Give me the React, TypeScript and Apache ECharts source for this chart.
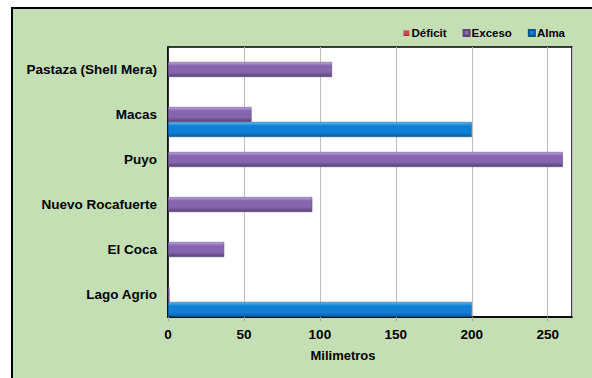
import React, { useEffect, useRef } from "react";
import * as echarts from "echarts";

const categories = ["Lago Agrio", "El Coca", "Nuevo Rocafuerte", "Puyo", "Macas", "Pastaza (Shell Mera)"];
const deficit: (number | null)[] = [null, null, null, null, null, null];
const exceso: (number | null)[] = [1, 37, 95, 260, 55, 108];
const alma: (number | null)[] = [200, null, null, null, 200, null];
const xTicks = [0, 50, 100, 150, 200, 250];

const FONT = "Liberation Sans, Arial, sans-serif";

const grad = (light: string, mid: string, dark: string) =>
  new echarts.graphic.LinearGradient(0, 0, 0, 1, [
    { offset: 0, color: light },
    { offset: 0.25, color: mid },
    { offset: 0.7, color: mid },
    { offset: 1, color: dark },
  ]);

export default function App() {
  const ref = useRef<HTMLDivElement>(null);
  useEffect(() => {
    if (!ref.current) return;
    const chart = echarts.init(ref.current, null, { renderer: "svg" });
    chart.setOption({
      animation: false,
      backgroundColor: "#ffffff",
      graphic: [
        {
          type: "rect",
          z: -10,
          silent: true,
          shape: { x: 12, y: 8, width: 620, height: 420 },
          style: { fill: "#c4dfb4", stroke: "#000000", lineWidth: 2 },
        },
        {
          type: "text",
          x: 343,
          y: 355,
          style: {
            text: "Milimetros",
            font: `bold 13px ${FONT}`,
            fill: "#000",
            textAlign: "center",
            textVerticalAlign: "middle",
          },
        },
      ],
      legend: {
        right: 22,
        top: 22,
        itemWidth: 6,
        itemHeight: 6,
        itemGap: 16,
        icon: "rect",
        textStyle: { fontFamily: FONT, fontWeight: "bold", fontSize: 11.5, color: "#000", padding: [0, 0, 0, -3] },
        data: ["Déficit", "Exceso", "Alma"],
      },
      grid: {
        left: 168,
        top: 47,
        width: 404,
        height: 270,
        show: true,
        backgroundColor: "#ffffff",
        borderColor: "#000",
        borderWidth: 1.5,
        containLabel: false,
      },
      xAxis: {
        type: "value",
        min: 0,
        max: 266,
        interval: 50,
        axisLine: { show: true, lineStyle: { color: "#000", width: 1.5 } },
        axisTick: { show: true, length: 4, lineStyle: { color: "#a6a6a6" } },
        splitLine: { show: true, lineStyle: { color: "#bfbfbf", width: 1 } },
        axisLabel: {
          showMaxLabel: false,
          margin: 10,
          fontFamily: FONT,
          fontWeight: "bold",
          fontSize: 13.5,
          color: "#000",
          formatter: (v: number) => (xTicks.includes(v) ? String(v) : ""),
        },
      },
      yAxis: {
        type: "category",
        data: categories,
        axisLine: { show: true, lineStyle: { color: "#000", width: 1.5 } },
        axisTick: { show: false },
        axisLabel: {
          margin: 11,
          fontFamily: FONT,
          fontWeight: "bold",
          fontSize: 13.5,
          color: "#000",
        },
      },
      series: [
        {
          name: "Déficit",
          type: "bar",
          data: deficit,
          barGap: "0%",
          barCategoryGap: "0%",
          itemStyle: { color: grad("#e08a88", "#c0504d", "#8c2f2d") },
        },
        {
          name: "Exceso",
          type: "bar",
          data: exceso,
          barGap: "0%",
          barCategoryGap: "0%",
          itemStyle: {
            color: grad("#bda4e0", "#8465ae", "#553f74"),
            borderColor: "#5a4478",
            borderWidth: 0.5,
          },
        },
        {
          name: "Alma",
          type: "bar",
          data: alma,
          barGap: "0%",
          barCategoryGap: "0%",
          itemStyle: {
            color: grad("#5cbcf5", "#0f80d6", "#0a5b9c"),
            borderColor: "#0a5590",
            borderWidth: 0.5,
          },
        },
      ],
    });
    return () => chart.dispose();
  }, []);
  return (
    <div
      ref={ref}
      style={{ position: "fixed", left: 0, top: 0, width: 592, height: 378 }}
    />
  );
}
